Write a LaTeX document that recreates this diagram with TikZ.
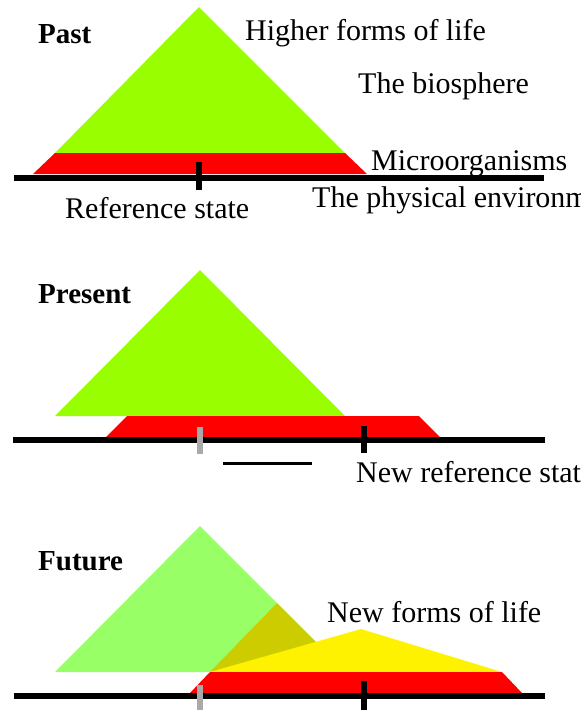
\documentclass[tikz,border=0pt]{standalone}
\usepackage{fontspec}
\setmainfont{Liberation Serif}
\definecolor{limegreen}{HTML}{99FF00}
\definecolor{palegreen}{HTML}{99FF66}
\definecolor{olivemix}{HTML}{CCCC00}
\definecolor{tickgray}{HTML}{AAAAAA}
\begin{document}
\begin{tikzpicture}[x=1pt,y=-1pt,
  lbl/.style={anchor=base west, inner sep=0pt, font=\fontsize{30}{32}\selectfont},
  ttl/.style={anchor=base west, inner sep=0pt, font=\fontsize{29}{32}\selectfont\bfseries},
  axisline/.style={line width=6pt},
  blacktick/.style={line width=6pt, black},
  graytick/.style={line width=6pt, tickgray},
  shortbar/.style={line width=3pt}]
\useasboundingbox (0,0) rectangle (581,710);
\clip (0,0) rectangle (581,710);

% ---------- Past ----------
\fill[limegreen] (199,7) -- (345,153) -- (55,153) -- cycle;
\fill[red] (55,153) -- (345,153) -- (367,174) -- (33,174) -- cycle;
\coordinate (a1l) at (14,177.5);
\coordinate (a1r) at (544,177.5);
\draw[axisline] (a1l) -- (a1r);
\coordinate (t1a) at (199,162);
\coordinate (t1b) at (199,190);
\draw[blacktick] (t1a) -- (t1b);
\node[ttl] (past) at (38,43) {Past};
\node[lbl] (higher) at (245,40) {Higher forms of life};
\node[lbl] (bio) at (358,93) {The biosphere};
\node[lbl] (micro) at (371,170) {Microorganisms};
\node[lbl] (phys) at (312,207) {The physical environment};
\node[lbl] (ref) at (65,218) {Reference state};

% ---------- Present ----------
\fill[limegreen] (200,270) -- (345,416) -- (55,416) -- cycle;
\fill[red] (127,416) -- (419,416) -- (440,437) -- (106,437) -- cycle;
\coordinate (a2l) at (13,440);
\coordinate (a2r) at (545,440);
\draw[axisline] (a2l) -- (a2r);
\coordinate (g2a) at (200,427);
\coordinate (g2b) at (200,454);
\draw[graytick] (g2a) -- (g2b);
\coordinate (t2a) at (364,426);
\coordinate (t2b) at (364,453);
\draw[blacktick] (t2a) -- (t2b);
\coordinate (s2a) at (223,463);
\coordinate (s2b) at (312,463);
\draw[shortbar] (s2a) -- (s2b);
\node[ttl] (present) at (38,303) {Present};
\node[lbl] (newref) at (356,482) {New reference state};

% ---------- Future ----------
\fill[palegreen] (200,526) -- (346,672) -- (55,672) -- cycle;
\fill[olivemix] (210,672) -- (277,603) -- (346,672) -- cycle;
\fill[yellow] (210,672) -- (361,629) -- (502,672) -- cycle;
\fill[red] (210,672) -- (502,672) -- (522,693) -- (190,693) -- cycle;
\coordinate (a3l) at (14,696);
\coordinate (a3r) at (545,696);
\draw[axisline] (a3l) -- (a3r);
\coordinate (g3a) at (200,685);
\coordinate (g3b) at (200,712);
\draw[graytick] (g3a) -- (g3b);
\coordinate (t3a) at (364,681);
\coordinate (t3b) at (364,712);
\draw[blacktick] (t3a) -- (t3b);
\node[ttl] (future) at (38,570) {Future};
\node[lbl] (newforms) at (327,622) {New forms of life};
\end{tikzpicture}
\end{document}
